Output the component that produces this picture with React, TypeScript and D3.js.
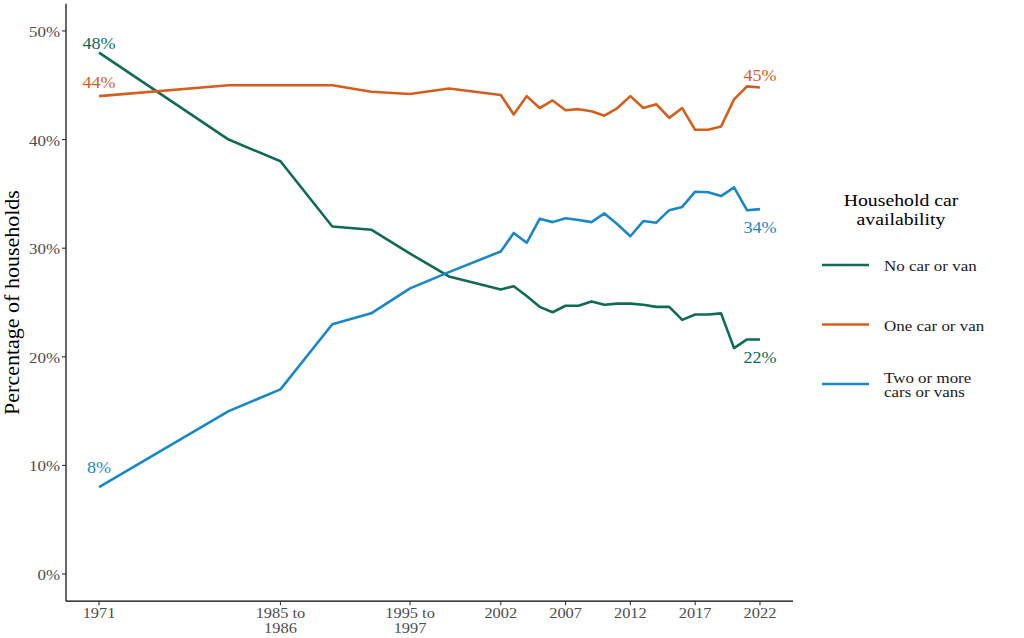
import React from 'react'
import { scaleLinear, line } from 'd3'

// survey years (multi-year surveys plotted at their first year)
const years = [1971, 1981, 1985, 1989, 1992, 1995, 1998,
    2002, 2003, 2004, 2005, 2006, 2007, 2008, 2009, 2010, 2011,
    2012, 2013, 2014, 2015, 2016, 2017, 2018, 2019, 2020, 2021, 2022]

const noCar = [48, 40, 38, 32, 31.7, 29.5, 27.4,
    26.2, 26.5, 25.6, 24.6, 24.1, 24.7, 24.7, 25.1, 24.8, 24.9,
    24.9, 24.8, 24.6, 24.6, 23.4, 23.9, 23.9, 24.0, 20.8, 21.6, 21.6]

const oneCar = [44, 45, 45, 45, 44.4, 44.2, 44.7,
    44.1, 42.3, 44.0, 42.9, 43.6, 42.7, 42.8, 42.6, 42.2, 42.9,
    44.0, 42.9, 43.25, 42.0, 42.9, 40.9, 40.9, 41.2, 43.7, 44.9, 44.8]

const twoPlus = [8, 15, 17, 23, 24, 26.3, 27.8,
    29.7, 31.4, 30.5, 32.7, 32.4, 32.75, 32.6, 32.4, 33.2, 32.2,
    31.1, 32.5, 32.35, 33.5, 33.8, 35.2, 35.15, 34.8, 35.6, 33.5, 33.6]

const seriesNames = ['No car or van', 'One car or van', 'Two or more\ncars or vans']
const seriesValues = [noCar, oneCar, twoPlus]

const xTickYears = [1971, 1985, 1995, 2002, 2007, 2012, 2017, 2022]
const xTickLabels = ['1971', '1985 to\n1986', '1995 to\n1997', '2002', '2007', '2012', '2017', '2022']

const colors = ['#0f6b57', '#d55e1c', '#1a87c6']
// label nudges in percentage points for start / end labels
const startNudge = [0.9, 1.3, 1.85]
const endNudge = [-1.65, 1.1, -1.65]

const FONT = "'Liberation Serif', 'DejaVu Serif', serif"
const SX = 1.13 // the reference text is a little wide

const xScale = scaleLinear().domain([1968.45, 2024.55]).range([66, 793])
const yScale = scaleLinear().domain([-2.5, 52.5]).range([601.2, 3.8])

function WideText(props: {
    x: number, y: number, size: number, fill: string,
    anchor?: 'start' | 'middle' | 'end', dy?: string, children: React.ReactNode
}) {
    const { x, y, size, fill, anchor = 'start', dy, children } = props
    return (
        <text transform={`translate(${x},${y}) scale(${SX},1)`}
            textAnchor={anchor} fontSize={size} fill={fill} dy={dy} fontFamily={FONT}>
            {children}
        </text>
    )
}

export default function App() {
    const gen = line<number>()
        .x((_, i) => xScale(years[i]))
        .y((d) => yScale(d))

    const yTicks = yScale.ticks(5)
    const x0 = xScale.range()[0]
    const yBottom = yScale.range()[0]

    return (
        <svg width={1024} height={638}
            style={{ position: 'absolute', left: 0, top: 0, background: '#fff' }}>
            <rect width={1024} height={638} fill='#fff' />

            {/* series lines */}
            {seriesValues.map((vals, s) => (
                <path key={s} d={gen(vals) ?? ''} fill='none' stroke={colors[s]}
                    strokeWidth={2.6} strokeLinejoin='round' />
            ))}

            {/* start / end labels */}
            {seriesValues.map((vals, s) => {
                const last = vals.length - 1
                return (
                    <g key={'lab' + s}>
                        <WideText x={xScale(years[0])} y={yScale(vals[0] + startNudge[s])}
                            size={16} fill={colors[s]} anchor='middle' dy='0.35em'>
                            {Math.round(vals[0])}%
                        </WideText>
                        <WideText x={xScale(years[last])} y={yScale(vals[last] + endNudge[s])}
                            size={16} fill={colors[s]} anchor='middle' dy='0.35em'>
                            {Math.round(vals[last])}%
                        </WideText>
                    </g>
                )
            })}

            {/* axes */}
            <line x1={x0} x2={x0} y1={yScale.range()[1]} y2={yBottom} stroke='#000' strokeWidth={1.2} />
            <line x1={x0} x2={xScale.range()[1]} y1={yBottom} y2={yBottom} stroke='#000' strokeWidth={1.2} />

            {yTicks.map((t) => (
                <g key={'y' + t}>
                    <line x1={x0 - 4} x2={x0} y1={yScale(t)} y2={yScale(t)} stroke='#333' strokeWidth={1.1} />
                    <WideText x={x0 - 6} y={yScale(t)} size={15} fill='#4d4d4d' anchor='end' dy='0.4em'>
                        {t}%
                    </WideText>
                </g>
            ))}

            {xTickYears.map((yr, i) => (
                <g key={'x' + yr}>
                    <line x1={xScale(yr)} x2={xScale(yr)} y1={yBottom} y2={yBottom + 4} stroke='#333' strokeWidth={1.1} />
                    {xTickLabels[i].split('\n').map((ln, j) => (
                        <WideText key={j} x={xScale(yr)} y={yBottom + 17 + j * 15} size={14.5}
                            fill='#4d4d4d' anchor='middle'>
                            {ln}
                        </WideText>
                    ))}
                </g>
            ))}

            {/* y axis title */}
            <text transform={`translate(19,${(yScale.range()[1] + yBottom) / 2}) rotate(-90)`}
                textAnchor='middle' fontSize={22} fill='#000' fontFamily={FONT}>
                Percentage of households
            </text>

            {/* legend */}
            <WideText x={901} y={206} size={17.5} fill='#000' anchor='middle'>Household car</WideText>
            <WideText x={901} y={225} size={17.5} fill='#000' anchor='middle'>availability</WideText>
            {seriesNames.map((name, s) => {
                const ky = 265 + s * 59.5
                const lines = name.split('\n')
                return (
                    <g key={'leg' + s}>
                        <line x1={822} x2={869} y1={ky} y2={ky} stroke={colors[s]} strokeWidth={2.6} />
                        {lines.map((ln, j) => (
                            <WideText key={j} x={884} y={ky + 6 + (j - (lines.length - 1) / 2) * 14.5}
                                size={15} fill='#1a1a1a'>
                                {ln}
                            </WideText>
                        ))}
                    </g>
                )
            })}
        </svg>
    )
}
